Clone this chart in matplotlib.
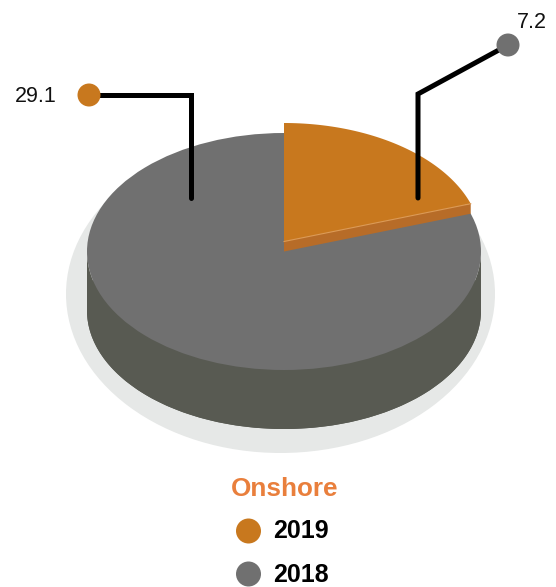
import numpy as np
import matplotlib
matplotlib.use('Agg')
import matplotlib.pyplot as plt
from matplotlib.patches import Ellipse, Polygon, Circle

plt.rcParams['font.family'] = ['Liberation Sans', 'DejaVu Sans']

# Data
years = ['2019', '2018']
values = [7.2, 29.1]
title = 'Onshore'

orange = '#c8781e'
grey = '#707070'
side_grey = '#585a52'
side_orange = '#b76c28'

fig = plt.figure(figsize=(5.56, 5.87), dpi=100)
ax = fig.add_axes([0, 0, 1, 1])
ax.set_xlim(0, 556)
ax.set_ylim(587, 0)
ax.axis('off')

# pie geometry, in pixels
cx, cy = 284, 251.5
rx, ry = 197, 118.5
depth = 59
lift = 10

# angle of the 2019 slice, clockwise from the top
sweep = np.radians(360 * values[0] / sum(values))


def arc(a0, a1, dy=0):
    t = np.linspace(a0, a1, 200)
    return np.column_stack([cx + rx * np.sin(t), cy + dy + ry * -np.cos(t)])


# shadow
ax.add_patch(Ellipse((280.5, 294), 429, 318, color='#e6e8e7', lw=0))

# side of the disc
side = np.vstack([arc(np.pi / 2, 3 * np.pi / 2), arc(np.pi / 2, 3 * np.pi / 2, depth)[::-1]])
ax.add_patch(Polygon(side, closed=True, color=side_grey, lw=0))
ax.add_patch(Ellipse((cx, cy + depth), 2 * rx, 2 * ry, color=side_grey, lw=0))

# top of the disc, 2018
ax.add_patch(Ellipse((cx, cy), 2 * rx, 2 * ry, color=grey, lw=0))

# raised 2019 slice
edge = np.array([cx + rx * np.sin(sweep), cy - lift - ry * np.cos(sweep)])
ax.add_patch(Polygon([(cx, cy - lift), edge, edge + [0, lift], (cx, cy)], closed=True,
                     color=side_orange, lw=0))
top = np.vstack([[(cx, cy - lift)], arc(0, sweep, -lift)])
ax.add_patch(Polygon(top, closed=True, color=orange, lw=0))
ax.plot([cx, edge[0]], [cy - lift, edge[1]], color='#dd9a55', lw=0.8)

# leader lines
ax.plot([89, 191, 191], [95, 95, 198], color='black', lw=3.6,
        solid_capstyle='round', solid_joinstyle='miter')
ax.plot([508, 418, 418], [45, 94, 198], color='black', lw=3.6,
        solid_capstyle='round', solid_joinstyle='miter')
ax.add_patch(Circle((89, 95), 11.5, color=orange, lw=0, zorder=3))
ax.add_patch(Circle((508, 45), 11.5, color=grey, lw=0, zorder=3))
ax.text(57, 96, f'{values[1]}', ha='right', va='center', fontsize=15.5, color='#111111')
ax.text(547, 22, f'{values[0]}', ha='right', va='center', fontsize=15.5, color='#111111')

# legend
ax.text(284.5, 488.5, title, ha='center', va='center', fontsize=18.8, fontweight='bold', color='#e97f3c')
for year, color, y in zip(years, [orange, grey], [531, 574]):
    ax.add_patch(Circle((248.5, y), 12.5, color=color, lw=0))
    ax.text(273, y + 0.5, year, ha='left', va='center', fontsize=18, fontweight='bold', color='black')

fig.savefig('out.png', dpi=100)
